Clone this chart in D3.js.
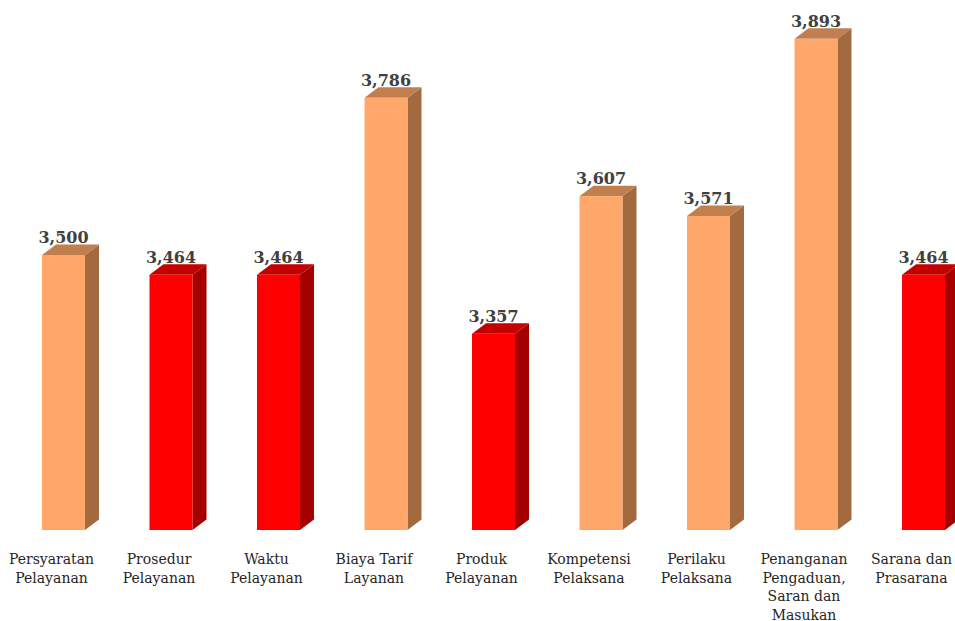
<!DOCTYPE html>
<html><head><meta charset="utf-8">
<script src="https://cdn.jsdelivr.net/npm/d3@7"></script>
<style>body{margin:0;background:#fff}svg{display:block}</style>
</head><body>
<svg id="c" width="955" height="621"></svg>
<script>
const categories = [
  ["Persyaratan","Pelayanan"],
  ["Prosedur","Pelayanan"],
  ["Waktu","Pelayanan"],
  ["Biaya Tarif","Layanan"],
  ["Produk","Pelayanan"],
  ["Kompetensi","Pelaksana"],
  ["Perilaku","Pelaksana"],
  ["Penanganan","Pengaduan,","Saran dan","Masukan"],
  ["Sarana dan","Prasarana"]
];
const values = [3.500, 3.464, 3.464, 3.786, 3.357, 3.607, 3.571, 3.893, 3.464];
const valueLabels = ["3,500","3,464","3,464","3,786","3,357","3,607","3,571","3,893","3,464"];
const colorGroup = ["o","r","r","o","r","o","o","o","r"];

const palette = {
  o: {front:"#FFA76A", side:"#A36A3F", top:"#C17F50"},
  r: {front:"#FF0000", side:"#A50000", top:"#C40000"}
};

const svg = d3.select("#c");
const x = d3.scalePoint().domain(d3.range(values.length)).range([63.5, 923.5]);
const y = d3.scaleLinear().domain([3, 4]).range([530, -20]);
const dx = 14, dy = 10.5;
const bw = 43;

const g = svg.append("g");
values.forEach((v, i) => {
  const c0 = x(i);
  const x0 = c0 - bw/2, x1 = x0 + bw, yt = y(v), yb = y(3);
  const c = palette[colorGroup[i]];
  g.append("path").attr("d", `M${x1},${yt}L${x1+dx},${yt-dy}L${x1+dx},${yb-dy}L${x1},${yb}Z`).attr("fill", c.side);
  g.append("path").attr("d", `M${x0},${yt}L${x0+dx},${yt-dy}L${x1+dx},${yt-dy}L${x1},${yt}Z`).attr("fill", c.top);
  g.append("rect").attr("x", x0).attr("y", yt).attr("width", bw).attr("height", yb - yt).attr("fill", c.front);
  g.append("text").attr("x", c0).attr("y", yt - dy - 1.5)
    .attr("text-anchor","middle").attr("font-family","'DejaVu Serif', serif")
    .attr("font-weight","bold").attr("font-size", 16).attr("fill","#404040")
    .text(valueLabels[i]);
  const t = g.append("text").attr("text-anchor","middle")
    .attr("font-family","'DejaVu Serif', serif").attr("font-size", 14).attr("fill","#262626");
  categories[i].forEach((line, k) => {
    t.append("tspan").attr("x", c0 - 12).attr("y", 564 + k * 18.5).text(line);
  });
});
</script>
</body></html>
